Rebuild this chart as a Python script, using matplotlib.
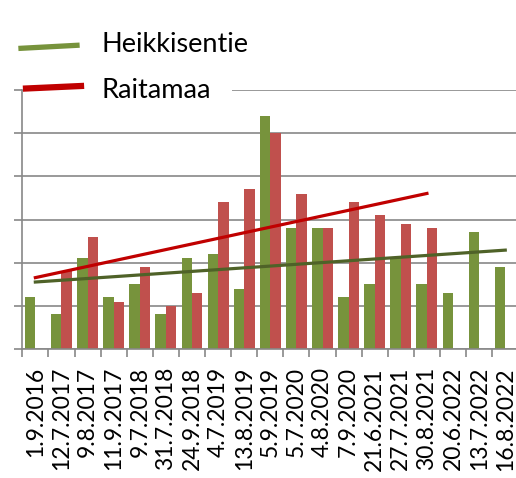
import numpy as np
import matplotlib.pyplot as plt
from matplotlib.lines import Line2D
from matplotlib.patches import Rectangle

# data
dates = ['1.9.2016', '12.7.2017', '9.8.2017', '11.9.2017', '9.7.2018', '31.7.2018',
         '24.9.2018', '4.7.2019', '13.8.2019', '5.9.2019', '5.7.2020', '4.8.2020',
         '7.9.2020', '21.6.2021', '27.7.2021', '30.8.2021', '20.6.2022', '13.7.2022',
         '16.8.2022']
heikkisentie = [1.2, 0.8, 2.1, 1.2, 1.5, 0.8, 2.1, 2.2, 1.4, 5.4, 2.8, 2.8,
                1.2, 1.5, 2.1, 1.5, 1.3, 2.7, 1.9]
raitamaa = [np.nan, 1.8, 2.6, 1.1, 1.9, 1.0, 1.3, 3.4, 3.7, 5.0, 3.6, 2.8,
            3.4, 3.1, 2.9, 2.8, np.nan, np.nan, np.nan]
labels = ['Heikkisentie', 'Raitamaa']

green = '#77933C'
green_dark = '#4F6228'
red_bar = '#C0504D'
red_line = '#C00000'
grid_c = '#888888'

plt.rcParams['font.family'] = ['Lato', 'DejaVu Sans']

W, H = 516, 478
fig = plt.figure(figsize=(W / 100, H / 100), dpi=100)
ax = fig.add_axes([22.3 / W, (H - 349) / H, (518.3 - 22.3) / W, (349 - 90) / H])

x = np.arange(len(dates))
g = np.array(heikkisentie)
r = np.array(raitamaa)
bw = 0.4
ax.bar(x - bw / 2, g, width=bw, color=green, zorder=2)
ax.bar(x + bw / 2, r, width=bw, color=red_bar, zorder=2)

# linear trend lines (like Excel)
k, b = np.polyfit(x, g, 1)
ax.plot([x[0], x[-1]], [k * x[0] + b, k * x[-1] + b], color=green_dark, lw=2.3, zorder=3)
ok = ~np.isnan(r)
k2, b2 = np.polyfit(x[ok], r[ok], 1)
last = x[ok][-1]
ax.plot([0, last], [b2, k2 * last + b2], color=red_line, lw=2.3, zorder=3)

ax.set_xlim(-0.5, len(dates) - 0.5)
ax.set_ylim(0, 6)
ax.set_yticks(np.arange(0, 7))
ax.set_yticklabels([])
ax.yaxis.grid(True, color=grid_c, lw=1.2)
ax.set_axisbelow(True)

ax.set_xticks(x)
ax.set_xticklabels(dates, rotation=90, fontsize=16.5)
ax.set_xticks(np.arange(len(dates)) - 0.5, minor=True)
ax.tick_params(axis='x', which='major', length=0, pad=13)
ax.tick_params(axis='x', which='minor', length=6, width=1.2, color=grid_c)
ax.tick_params(axis='y', length=6, width=1.2, color=grid_c)

for s in ['top', 'right']:
    ax.spines[s].set_visible(False)
for s in ['left', 'bottom']:
    ax.spines[s].set_color(grid_c)
    ax.spines[s].set_linewidth(1.2)

# legend drawn by hand at the top left
fig.patches.append(Rectangle((23.5 / W, 1 - 100 / H), (232 - 23.5) / W, 20 / H,
                             transform=fig.transFigure, facecolor='white',
                             edgecolor='none', zorder=5))
fig.lines.append(Line2D([21 / W, 77 / W], [1 - 48.3 / H, 1 - 45.3 / H],
                        transform=fig.transFigure, color=green, lw=3.8, zorder=6))
fig.lines.append(Line2D([26 / W, 81 / W], [1 - 88.5 / H, 1 - 86 / H],
                        transform=fig.transFigure, color=red_line, lw=4.5, zorder=6))
fig.text(101.7 / W, 1 - 51.7 / H, labels[0], fontsize=19.5, va='baseline', zorder=7)
fig.text(101.7 / W, 1 - 98.3 / H, labels[1], fontsize=19.5, va='baseline', zorder=7)

fig.savefig('out.png', dpi=100)
